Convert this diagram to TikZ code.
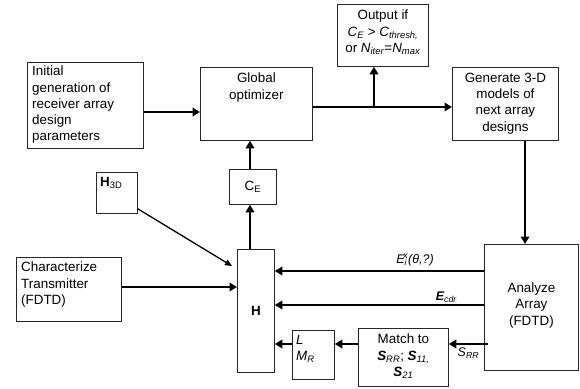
\documentclass[tikz,border=0pt]{standalone}
\usepackage{fontspec}
\setmainfont{Liberation Sans}
\usetikzlibrary{positioning, calc, arrows.meta}
\newcommand{\isub}[1]{\textsubscript{\textit{#1}}}

\begin{document}
\begin{tikzpicture}
	[
	x=1pt, y=-1pt,																	%Pixel-Koordinaten, y nach unten
	Box/.style={draw=black!85, line width=0.8pt, anchor=north west, inner sep=0pt},	%Kasten
	Txt/.style={font=\fontsize{13.4}{16.2}\selectfont, inner sep=0pt, align=left},	%Kastentext
	FlowArrow/.style={line width=2.2pt, -{Triangle[length=7.5pt,width=8.5pt]}},	%dicker Pfeil
	ThinArrow/.style={line width=1.3pt, -{Triangle[length=7pt,width=6pt]}},		%duenner Pfeil
	Label/.style={font=\fontsize{12.5}{14}\selectfont\itshape, inner sep=1pt}		%Pfeilbeschriftung
	]
	\useasboundingbox (0,0) rectangle (580,388);

	%% Kaesten %%
	\node[Box, minimum width=116pt, minimum height=86pt]  (init)  at (27,62)  {};	%Initial generation
	\node[Box, minimum width=112pt, minimum height=73pt]  (glob)  at (200,67) {};	%Global optimizer
	\node[Box, minimum width=91pt,  minimum height=62pt]  (out)   at (337,4)  {};	%Output
	\node[Box, minimum width=106pt, minimum height=73pt]  (gen)   at (452,67) {};	%Generate 3-D models
	\node[Box, minimum width=94pt,  minimum height=126pt] (anal)  at (484,244) {};	%Analyze Array
	\node[Box, minimum width=41pt,  minimum height=41pt]  (hthree) at (96,172) {};	%H_3D
	\node[Box, minimum width=47pt,  minimum height=35pt]  (ce)    at (229,169) {};	%C_E
	\node[Box, minimum width=37pt,  minimum height=123pt] (hbox)  at (237,249) {};	%H
	\node[Box, minimum width=105pt, minimum height=64pt]  (char)  at (16,257) {};	%Characterize Transmitter
	\node[Box, minimum width=90pt,  minimum height=58pt]  (match) at (358,328) {};	%Match to
	\node[Box, minimum width=42pt,  minimum height=49pt]  (lmr)   at (292,330) {};	%L, M_R

	%% Texte in den Kaesten %%
	\node[Txt, anchor=north west] (initT) at ($(init.north west)+(5,4)$) {Initial\\generation of\\receiver array\\design\\parameters};
	\node[Txt, anchor=north, align=center] (globT) at ($(glob.north)+(0,6)$) {Global\\optimizer};
	\node[Txt, anchor=north, align=center] (outT) at ($(out.north)+(0,6)$)
		{Output if\\\textit{C}\isub{E} > \textit{C}\isub{thresh,}\\or \textit{N}\isub{iter}=\textit{N}\isub{max}};
	\node[Txt, anchor=north, align=center] (genT) at ($(gen.north)+(0,6)$) {Generate 3-D\\models of\\next array\\designs};
	\node[Txt, anchor=north west] (hthreeT) at ($(hthree.north west)+(4,5)$) {\textbf{H}\textsubscript{3D}};
	\node[Txt] (ceT) at (ce.center) {C\textsubscript{E}};
	\node[Txt] (hT) at (hbox.center) {\textbf{H}};
	\node[Txt, anchor=north west] (charT) at ($(char.north west)+(5,5)$) {Characterize\\Transmitter\\(FDTD)};
	\node[Txt, align=center] (analT) at ($(anal.center)+(0,-2)$) {Analyze\\Array\\(FDTD)};
	\node[Txt, anchor=north, align=center] (matchT) at ($(match.north)+(0,6)$)
		{Match to\\\textbf{\textit{S}}\isub{RR}; \textbf{\textit{S}}\isub{11,}\\\textbf{\textit{S}}\isub{21}};
	\node[Txt, anchor=north west] (lmrT) at ($(lmr.north west)+(4,5)$) {\textit{L}\\\textit{M}\isub{R}};

	%% Zeilen der Pfeile zum H-Kasten %%
	\coordinate (rowE)   at (0,271);	%E_i
	\coordinate (rowCdr) at (0,305);	%E_cdr
	\coordinate (rowS)   at (0,344);	%S_RR
	\coordinate (rowT)   at (0,287);	%Transmitter
	\coordinate (branch) at (374,107);	%Abzweigung zum Output

	%% Pfeile %%
	\draw[FlowArrow] (init.east |- 0,112) -- (glob.west |- 0,112);
	\draw[FlowArrow] (glob.east |- branch) -- (gen.west |- branch);
	\draw[FlowArrow] (branch) -- (branch |- out.south);
	\draw[FlowArrow] (gen.south -| 525,0) -- (anal.north -| 525,0);
	\draw[FlowArrow] (ce.north -| 250,0) -- (glob.south -| 250,0);
	\draw[FlowArrow] (hbox.north -| 250,0) -- (ce.south -| 250,0);
	\draw[ThinArrow] ($(hthree.south east)+(0,-5)$) -- ($(hbox.north west)+(-5,17)$);
	\draw[FlowArrow] (char.east |- rowT) -- (hbox.west |- rowT);
	\draw[FlowArrow] (anal.west |- rowE) -- (hbox.east |- rowE)
		node[Label, pos=0.33, above=3pt] {E\textsubscript{i}\hspace{-0.3em}\textsuperscript{x}(θ,?)};
	\draw[FlowArrow] (anal.west |- rowCdr) -- (hbox.east |- rowCdr)
		node[Label, pos=0.18, above=0pt] {\textbf{E}\textsubscript{cdr}};
	\draw[FlowArrow] ([xshift=4pt]anal.west |- rowS) -- (match.east |- rowS)
		node[Label, pos=0.5, below=2pt] {S\textsubscript{RR}};
	\draw[FlowArrow] (match.west |- rowS) -- (lmr.east |- rowS);
	\draw[FlowArrow] (lmr.west |- rowS) -- (hbox.east |- rowS);
\end{tikzpicture}
\end{document}
